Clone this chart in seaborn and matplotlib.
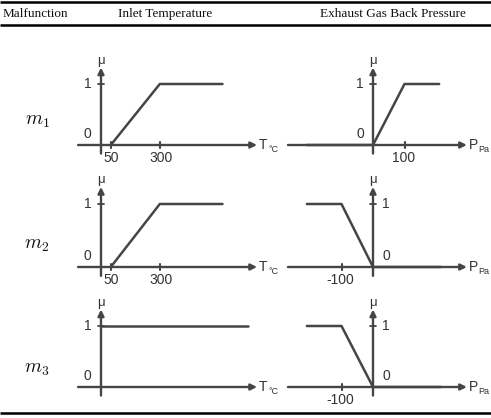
import matplotlib.pyplot as plt
import seaborn as sns
import pandas as pd

sns.set_theme(style="white")
plt.rcParams['font.family'] = ['Liberation Sans', 'DejaVu Sans']

W, H = 491, 418

# table header / row labels
headers = ['Malfunction', 'Inlet Temperature', 'Exhaust Gas Back Pressure']
row_labels = [r'$m_1$', r'$m_2$', r'$m_3$']

# membership functions (x, mu)
temp_x = [[50, 300, 620], [50, 300, 620], [0, 750]]
temp_mu = [[0, 1, 1], [0, 1, 1], [1, 1]]
temp_ticks = [[50, 300], [50, 300], []]

pres_x = [[-210, 0, 100, 210], [-210, -100, 0, 215], [-210, -100, 0, 215]]
pres_mu = [[0, 0, 1, 1], [1, 1, 0, 0], [1, 1, 0, 0]]
pres_ticks = [[100], [-100], [-100]]

col = '#454545'
txt = '#333333'

fig = plt.figure(figsize=(W / 100, H / 100), dpi=100)

bg = fig.add_axes([0, 0, 1, 1])
bg.set_xlim(0, W)
bg.set_ylim(H, 0)
bg.axis('off')
bg.hlines([2, 25, 413], 0, W, color='black', lw=1.8)
for x, s, ha in zip([3, 165, 393], headers, ['left', 'center', 'center']):
    bg.text(x, 14, s, ha=ha, va='center', fontsize=9.5,
            family='Liberation Serif', color='#111111')
for y, s in zip([122, 246, 369], row_labels):
    bg.text(37, y, s, ha='center', va='center', fontsize=14,
            math_fontfamily='cm', color='#111111')


def panel(ox, oy, sx, sy, xlim, ylim=(-0.3, 1.5)):
    left = ox + xlim[0] * sx
    right = ox + xlim[1] * sx
    top = oy - ylim[1] * sy
    bottom = oy - ylim[0] * sy
    ax = fig.add_axes([left / W, 1 - bottom / H, (right - left) / W, (bottom - top) / H])
    ax.set_xlim(xlim)
    ax.set_ylim(ylim)
    ax.axis('off')
    return ax


def draw(ax, xs, mus, ticks, xmin, xmax, tick_dx, tick_dy, xlab, sub, lab01_side):
    arrow = dict(arrowstyle='-|>', color=col, lw=1.7, mutation_scale=9,
                 shrinkA=0, shrinkB=0)
    ax.annotate('', xy=(xmax, 0), xytext=(xmin, 0), arrowprops=arrow)
    ax.annotate('', xy=(0, 1.27), xytext=(0, -0.14), arrowprops=arrow)
    df = pd.DataFrame({'x': xs, 'mu': mus})
    sns.lineplot(data=df, x='x', y='mu', ax=ax, color=col, lw=1.8,
                 sort=False, estimator=None)
    ax.set_xlabel('')
    ax.set_ylabel('')
    for t in ticks:
        ax.plot([t, t], [-0.05, 0.05], color=col, lw=1.5)
        ax.text(t + tick_dx, -0.1, str(t), ha='center', va='top',
                fontsize=10, color=txt)
    ax.plot([-tick_dy, tick_dy], [1, 1], color=col, lw=1.3)
    ax.text(0, 1.38, 'μ', ha='center', va='center', fontsize=9.5, color=txt)
    if lab01_side == 'left':
        lx, ha = -tick_dy * 3.2, 'right'
    else:
        lx, ha = tick_dy * 3.2, 'left'
    ax.text(lx, 1, '1', ha=ha, va='center', fontsize=10, color=txt)
    ax.text(lx, 0.18, '0', ha=ha, va='center', fontsize=10, color=txt)
    ax.annotate(xlab, xy=(xmax, 0), xytext=(1.5, 0), textcoords='offset points',
                ha='left', va='center', fontsize=10, color=txt, annotation_clip=False)
    ax.annotate(sub, xy=(xmax, 0), xytext=(8, -3), textcoords='offset points',
                ha='left', va='center', fontsize=6.5, color=txt, annotation_clip=False)


origins_y = [145, 267, 387]
sy_rows = [61, 63, 61]
for i in range(3):
    axl = panel(101, origins_y[i], 0.196, sy_rows[i], (-150, 900))
    draw(axl, temp_x[i], temp_mu[i], temp_ticks[i], -117, 796, 4, 15,
         'T', '°C', 'left')
    axr = panel(373, origins_y[i], 0.315, sy_rows[i], (-300, 300))
    draw(axr, pres_x[i], pres_mu[i], pres_ticks[i], -270, 298, -4, 9,
         'P', 'Pa', 'left' if i == 0 else 'right')

fig.savefig('out.png', dpi=100)
